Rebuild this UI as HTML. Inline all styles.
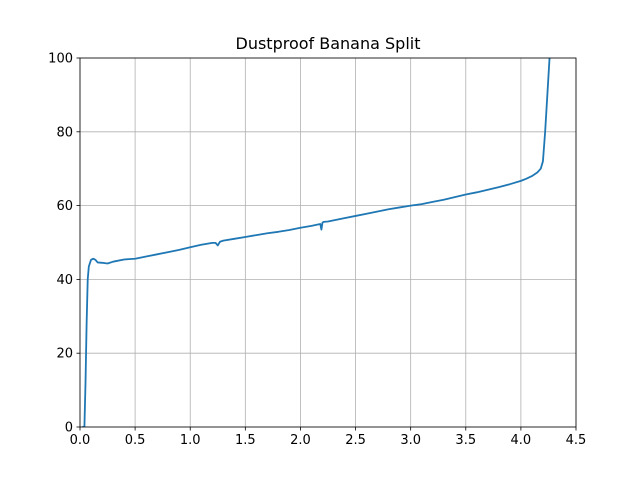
<!DOCTYPE html>
<html><head><meta charset="utf-8"><style>
body{margin:0;background:#fff;}
svg text{font-family:"DejaVu Sans","Liberation Sans",sans-serif;}
</style></head><body>
<svg id="chart" width="640" height="480" viewBox="0 0 640 480">
<rect width="640" height="480" fill="#fff"/>
<text x="328" y="49" text-anchor="middle" font-size="16">Dustproof Banana Split</text>
<g id="grid"></g><g id="series"></g><g id="axes"></g>
</svg>
<script>
const xs=[0.02,0.04,0.05,0.06,0.07,0.08,0.1,0.12,0.14,0.16,0.2,0.25,0.3,0.4,0.5,0.6,0.7,0.8,0.9,1.0,1.1,1.2,1.23,1.25,1.27,1.3,1.4,1.5,1.6,1.7,1.8,1.9,2.0,2.1,2.18,2.19,2.2,2.21,2.25,2.3,2.4,2.5,2.6,2.7,2.8,2.9,3.0,3.1,3.2,3.3,3.4,3.5,3.6,3.7,3.8,3.9,4.0,4.05,4.1,4.15,4.18,4.2,4.22,4.24,4.26];
const ys=[0,0,12,28,40,43.5,45.3,45.6,45.3,44.6,44.5,44.3,44.8,45.4,45.6,46.2,46.8,47.4,48,48.7,49.4,49.9,49.9,49.2,50.2,50.5,51,51.5,52,52.5,52.9,53.4,54,54.5,55,53.5,55.4,55.6,55.7,56,56.6,57.2,57.8,58.4,59,59.5,60,60.4,61,61.6,62.3,63,63.6,64.3,65,65.8,66.7,67.3,68,69,70,72,80,90,100];
const xTicks=[0,0.5,1,1.5,2,2.5,3,3.5,4,4.5];
const yTicks=[0,20,40,60,80,100];
const L=80,R=576,T=58,B=427,xmax=4.5,ymax=100;
const sx=v=>L+(R-L)*v/xmax, sy=v=>B-(B-T)*v/ymax;
const NS="http://www.w3.org/2000/svg";
function mk(tag,attrs,parent){const e=document.createElementNS(NS,tag);for(const k in attrs)e.setAttribute(k,attrs[k]);document.getElementById(parent).appendChild(e);return e;}
xTicks.forEach(t=>{
 const g=mk('line',{x1:sx(t),x2:sx(t),y1:T,y2:B,stroke:'#b0b0b0','stroke-width':0.8},'grid');
 
 
 mk('line',{x1:sx(t),x2:sx(t),y1:B,y2:B+3.5,stroke:'#000','stroke-width':0.8},'axes');
 const tx=mk('text',{x:sx(t),y:B+17,'text-anchor':'middle','font-size':13},'axes');
 tx.textContent=t.toFixed(1);
 
 
});
yTicks.forEach(t=>{
 const g=mk('line',{x1:L,x2:R,y1:sy(t),y2:sy(t),stroke:'#b0b0b0','stroke-width':0.8},'grid');
 
 
 mk('line',{x1:L-3.5,x2:L,y1:sy(t),y2:sy(t),stroke:'#000','stroke-width':0.8},'axes');
 const tx=mk('text',{x:L-7,y:sy(t)+4.5,'text-anchor':'end','font-size':13},'axes');
 tx.textContent=t;
 
 
});
const fr=mk('rect',{x:L,y:T,width:R-L,height:B-T,fill:'none',stroke:'#000','stroke-width':0.8},'axes');


const cp=mk('clipPath',{id:'clip'},'series');mk('rect',{x:L,y:T,width:R-L,height:B-T},'series');
cp.appendChild(document.getElementById('series').lastChild);
const p=mk('polyline',{points:xs.map((x,i)=>sx(x)+','+sy(ys[i])).join(' '),fill:'none',stroke:'#1f77b4','stroke-width':1.8,'stroke-linejoin':'round','clip-path':'url(#clip)'},'series');


</script>
</body></html>
